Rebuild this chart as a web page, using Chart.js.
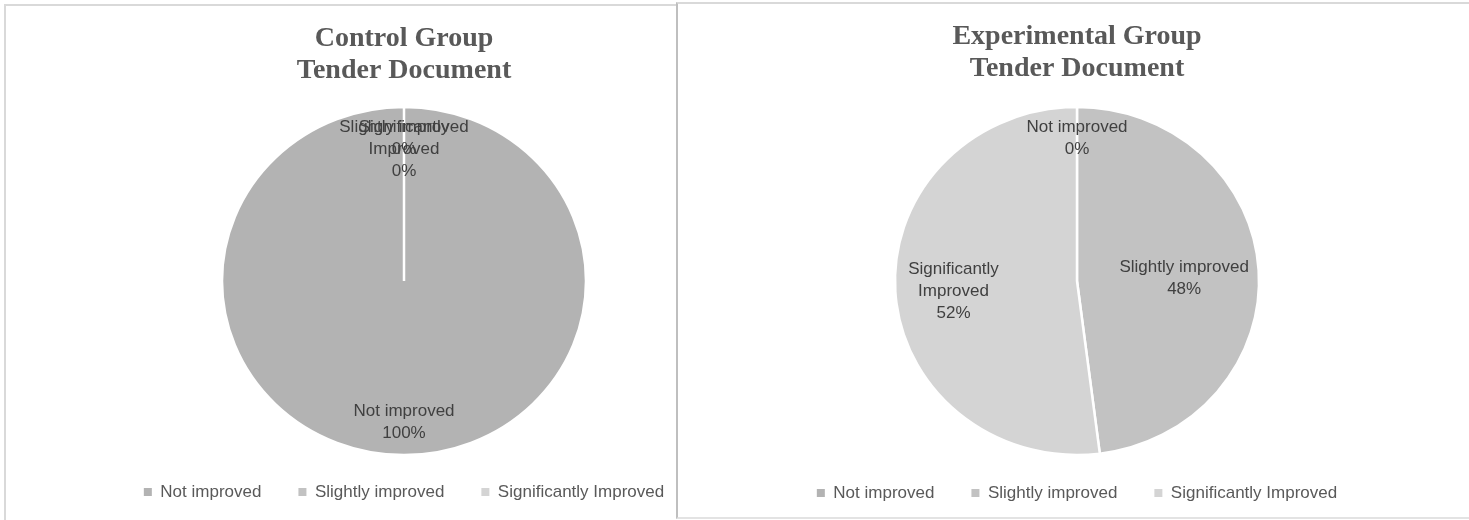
<!DOCTYPE html>
<html><head><meta charset="utf-8">
<script src="https://cdn.jsdelivr.net/npm/chart.js@4/dist/chart.umd.min.js"></script>
<style>
html,body{margin:0;padding:0;background:#fff;}
body{width:1469px;height:520px;position:relative;overflow:hidden;}
#panelL{position:absolute;left:4px;top:4px;width:720px;height:530px;border-left:2px solid #d9d9d9;border-top:2px solid #d9d9d9;box-sizing:border-box;}
#panelR{position:absolute;left:676px;top:2px;width:820px;height:517px;border-left:2px solid #bfbfbf;border-top:2px solid #d9d9d9;border-bottom:2px solid #e3e3e3;background:#fff;box-sizing:border-box;}
.w{position:absolute;top:0;height:520px;}
#wrapL{left:0;width:808px;}
#wrapR{left:677px;width:800px;}
</style></head>
<body>
<div id="panelL"></div>
<div class="w" id="wrapL"><canvas id="cL"></canvas></div>
<div id="panelR"></div>
<div class="w" id="wrapR"><canvas id="cR"></canvas></div>
<script>
const categories = ['Not improved', 'Slightly improved', 'Significantly Improved'];
const controlValues = [100, 0, 0];
const experimentalValues = [0, 48, 52];
const controlTitle = ['Control Group', 'Tender Document'];
const experimentalTitle = ['Experimental Group', 'Tender Document'];
const sliceColors = ['#b3b3b3', '#c2c2c2', '#d4d4d4'];

function wrap(ctx, text, maxW) {
  const words = text.split(' ');
  const lines = [];
  let cur = '';
  words.forEach(w => {
    const t = cur ? cur + ' ' + w : w;
    if (cur && ctx.measureText(t).width > maxW) { lines.push(cur); cur = w; }
    else cur = t;
  });
  if (cur) lines.push(cur);
  return lines;
}

// Draws the pie slightly flattened (as in the reference picture) and adds data labels.
const pieLabels = {
  id: 'pieLabels',
  beforeDatasetsDraw(chart, args, opts) {
    const meta = chart.getDatasetMeta(0);
    const a = meta.data[0];
    const ctx = chart.ctx;
    ctx.save();
    ctx.translate(0, a.y);
    ctx.scale(1, opts.yScale);
    ctx.translate(0, -a.y);
  },
  afterDatasetsDraw(chart, args, opts) {
    const ctx = chart.ctx;
    ctx.restore();
    const meta = chart.getDatasetMeta(0);
    const data = chart.data.datasets[0].data;
    const labels = chart.data.labels;
    const total = data.reduce((a, b) => a + b, 0);
    ctx.save();
    ctx.font = opts.size + 'px ' + opts.family;
    ctx.fillStyle = opts.color;
    ctx.textAlign = 'center';
    ctx.textBaseline = 'middle';
    meta.data.forEach((arc, i) => {
      const p = arc.getProps(['x', 'y', 'startAngle', 'endAngle', 'outerRadius']);
      const mid = (p.startAngle + p.endAngle) / 2;
      const place = opts.place[i];
      const r = p.outerRadius * place.f;
      const ax = p.x + Math.cos(mid) * r;
      const ay = p.y + Math.sin(mid) * r * opts.yScale + (place.dy || 0);
      const lines = wrap(ctx, labels[i], opts.wrapWidth);
      lines.push(Math.round(data[i] / total * 100) + '%');
      const lh = opts.lineHeight;
      const y0 = place.top ? ay + lh / 2 : ay - (lines.length - 1) * lh / 2;
      lines.forEach((t, k) => ctx.fillText(t, ax, y0 + k * lh));
    });
    ctx.restore();
  }
};

function makeChart(id, title, values, cfg) {
  return new Chart(document.getElementById(id), {
    type: 'pie',
    data: {
      labels: categories,
      datasets: [{
        data: values,
        backgroundColor: sliceColors,
        borderColor: '#ffffff',
        borderWidth: 2.5
      }]
    },
    plugins: [pieLabels],
    options: {
      responsive: true,
      maintainAspectRatio: false,
      animation: false,
      radius: 182,
      layout: { padding: { top: 0, bottom: cfg.padBottom, left: 0, right: 0 } },
      plugins: {
        tooltip: { enabled: false },
        title: {
          display: true,
          text: title,
          color: '#595959',
          font: { family: "'Liberation Serif', 'Times New Roman', serif", size: 28, weight: 'bold', lineHeight: 32 / 28 },
          padding: { top: cfg.titleTop, bottom: cfg.titleBottom }
        },
        legend: {
          position: 'bottom',
          labels: {
            boxWidth: 8, boxHeight: 8, padding: 37, color: '#595959',
            font: { family: "'Liberation Sans', Arial, sans-serif", size: 17 },
            generateLabels(chart) {
              return Chart.overrides.pie.plugins.legend.labels.generateLabels(chart).map(l => {
                l.lineWidth = 0; l.strokeStyle = l.fillStyle; return l;
              });
            }
          }
        },
        pieLabels: {
          family: "'Liberation Sans', Arial, sans-serif",
          size: 17, lineHeight: 22, color: '#404040', wrapWidth: 150,
          yScale: 0.956,
          place: cfg.place
        }
      }
    }
  });
}

makeChart('cL', controlTitle, controlValues, {
  padBottom: 9.5, titleTop: 23, titleBottom: 28.5,
  place: [{ f: 0.81 }, { f: 0.948, top: true }, { f: 0.948, top: true }]
});
makeChart('cR', experimentalTitle, experimentalValues, {
  padBottom: 8.5, titleTop: 21, titleBottom: 29.5,
  place: [{ f: 0.948, top: true }, { f: 0.59, dy: 4 }, { f: 0.68, dy: 3 }]
});
</script>
</body></html>
